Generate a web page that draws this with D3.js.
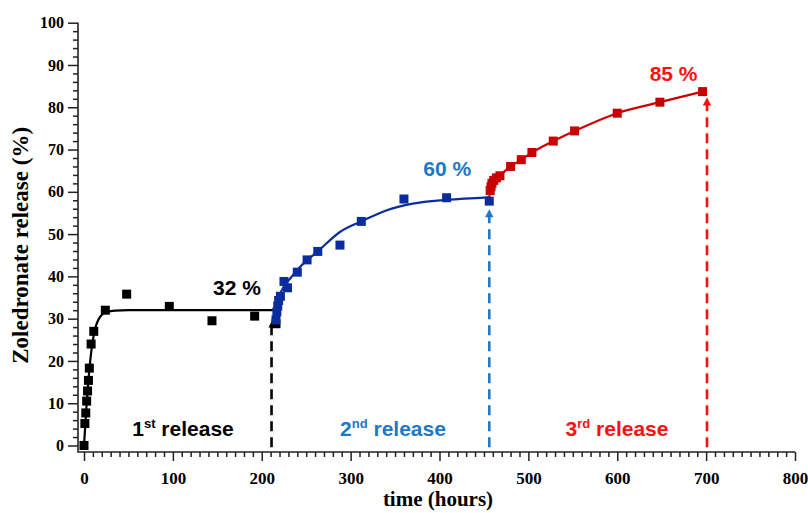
<!DOCTYPE html>
<html><head><meta charset="utf-8">
<script src="https://cdn.jsdelivr.net/npm/d3@7"></script>
<style>html,body{margin:0;padding:0;background:#fff}svg{display:block}</style>
</head><body>
<script>
// ---- data (time in hours, release in %) ----
const release1Points = [[0,0],[1,5.2],[2,7.7],[3,10.5],[4,12.9],[5,15.4],[6,18.3],[8,24],[11,27],[24,32],[48,35.8],[96,32.9],[144,29.5],[192,30.6],[216,28.8]];
const release1Fit = [[0,0],[1.5,5],[3,10],[5,15.5],[7,20],[10,25],[13,28],[16,29.7],[20,30.9],[26,31.6],[35,31.9],[50,32],[216,32]];
const release2Points = [[216,29.7],[217,31.6],[218,33],[219,34.3],[221,35.3],[225,38.8],[229,37.3],[240,41],[251,43.9],[263,45.9],[288,47.4],[312,53],[360,58.3],[408,58.6],[456,57.8]];
const release2Fit = [[214,31.5],[217.5,33.5],[222,36.5],[232,39.5],[243,42.2],[264,46.1],[288,50.5],[312,53],[340,55.6],[370,57.2],[408,58.1],[456,58.7]];
const release3Points = [[457,60.3],[458,61.2],[459,62],[461,62.7],[464,63.3],[468,63.8],[480,66],[492,67.6],[504,69.3],[528,72],[552,74.4],[600,78.6],[648,81.2],[696,83.7]];
const release3Fit = [[456,58.7],[457,60.3],[459,62],[462,63],[467,63.8],[480,66],[492,67.6],[504,69.3],[528,72],[552,74.4],[600,78.6],[648,81.2],[696,83.7]];
// end of each release: [time, arrow tip value]
const arrows = [[211,29.3],[456,55.9],[701,82.3]];
const pctLabels = ["32 %","60 %","85 %"];
const pctPos = [[216,32],[456,59],[696,83.7]];
const releaseNames = [["1","st"],["2","nd"],["3","rd"]];
const releaseLabelX = [183,393,617];
const xTicks = [0,100,200,300,400,500,600,700,800];
const yTicks = [0,10,20,30,40,50,60,70,80,90,100];

const W = 808, H = 513;
const fitColors = ["#000000","#0b2d9b","#c80000"];
const textColors = ["#000000","#1c78c8","#ff1010"];

const svg = d3.select("body").append("svg").attr("width",W).attr("height",H);
const x = d3.scaleLinear().domain([0,800]).range([84,795]);
const y = d3.scaleLinear().domain([0,100]).range([445.5,22.7]);
const axisX = 78, axisY = 452;
const serif = "'Liberation Serif','Times New Roman',serif";
const sans = "'Liberation Sans',Arial,sans-serif";

// ---- axes ----
const gy = svg.append("g").attr("transform",`translate(${axisX},0)`);
gy.call(d3.axisLeft(y).tickValues(d3.range(0,101,2).filter(v=>v%10)).tickSize(5).tickFormat(""));
gy.select(".domain").remove();
const gy2 = svg.append("g").attr("transform",`translate(${axisX},0)`);
gy2.call(d3.axisLeft(y).tickValues(yTicks).tickSize(10).tickPadding(4));
gy2.select(".domain").remove();
gy2.selectAll("text").attr("font-family",serif).attr("font-weight","bold").attr("font-size",16).attr("fill","#000");
[gy,gy2].forEach(g=>g.selectAll("line").attr("stroke","#222").attr("stroke-width",1.5));

const gx = svg.append("g").attr("transform",`translate(0,${axisY})`);
gx.call(d3.axisBottom(x).tickValues(d3.range(0,801,10).filter(v=>v%100)).tickSize(5).tickFormat(""));
gx.select(".domain").remove();
const gx2 = svg.append("g").attr("transform",`translate(0,${axisY})`);
gx2.call(d3.axisBottom(x).tickValues(xTicks).tickSize(9).tickPadding(11));
gx2.select(".domain").remove();
gx2.selectAll("text").attr("font-family",serif).attr("font-weight","bold").attr("font-size",17).attr("fill","#000");
[gx,gx2].forEach(g=>g.selectAll("line").attr("stroke","#222").attr("stroke-width",1.5));

svg.append("path").attr("d",`M${axisX},${y(100)}V${axisY}H${x(800)}`)
  .attr("fill","none").attr("stroke","#222").attr("stroke-width",1.6);

// axis titles
svg.append("text").attr("transform",`translate(28,${(y(100)+axisY)/2 + 8}) rotate(-90)`)
  .attr("text-anchor","middle").attr("font-family",serif).attr("font-weight","bold").attr("font-size",23)
  .text("Zoledronate release (%)");
svg.append("text").attr("x",438).attr("y",506).attr("text-anchor","middle")
  .attr("font-family",serif).attr("font-weight","bold").attr("font-size",21).text("time (hours)");

// ---- dashed arrows ----
arrows.forEach((a,i)=>{
  const px = x(a[0]), tip = y(a[1]);
  const hs = i===0 ? 5 : 7;
  svg.append("line").attr("x1",px).attr("x2",px).attr("y1",y(-0.4)).attr("y2",tip+hs)
    .attr("stroke",textColors[i]).attr("stroke-width",2.6).attr("stroke-dasharray","10,6");
  svg.append("path").attr("d",`M${px},${tip}L${px-hs*0.6},${tip+hs+1}L${px+hs*0.6},${tip+hs+1}Z`)
    .attr("fill",textColors[i]);
});

// ---- fitted curves ----
const line = d3.line().x(d=>x(d[0])).y(d=>y(d[1])).curve(d3.curveMonotoneX);
[release1Fit,release2Fit,release3Fit].forEach((f,i)=>{
  svg.append("path").attr("d",line(f)).attr("fill","none").attr("stroke",fitColors[i]).attr("stroke-width",2.2);
});

// ---- markers ----
const ms = 9;
[release1Points,release2Points,release3Points].forEach((pts,i)=>{
  svg.append("g").selectAll("rect").data(pts).join("rect")
    .attr("x",d=>x(d[0])-ms/2).attr("y",d=>y(d[1])-ms/2).attr("width",ms).attr("height",ms)
    .attr("fill",fitColors[i]);
});

// ---- percentage labels ----
const pctOffsets = [[-39,-15],[-42,-20],[-29,-11]];
pctLabels.forEach((t,i)=>{
  svg.append("text").attr("x",x(pctPos[i][0])+pctOffsets[i][0]).attr("y",y(pctPos[i][1])+pctOffsets[i][1])
    .attr("text-anchor","middle").attr("font-family",sans).attr("font-weight","bold").attr("font-size",21)
    .attr("fill",textColors[i]).text(t);
});

// ---- release labels ----
releaseNames.forEach((r,i)=>{
  const t = svg.append("text").attr("x",releaseLabelX[i]).attr("y",436).attr("text-anchor","middle")
    .attr("font-family",sans).attr("font-weight","bold").attr("font-size",21).attr("fill",textColors[i]);
  t.append("tspan").text(r[0]);
  t.append("tspan").attr("font-size",13).attr("dy",-8).text(r[1]);
  t.append("tspan").attr("dy",8).text(" release");
});
</script>
</body></html>
